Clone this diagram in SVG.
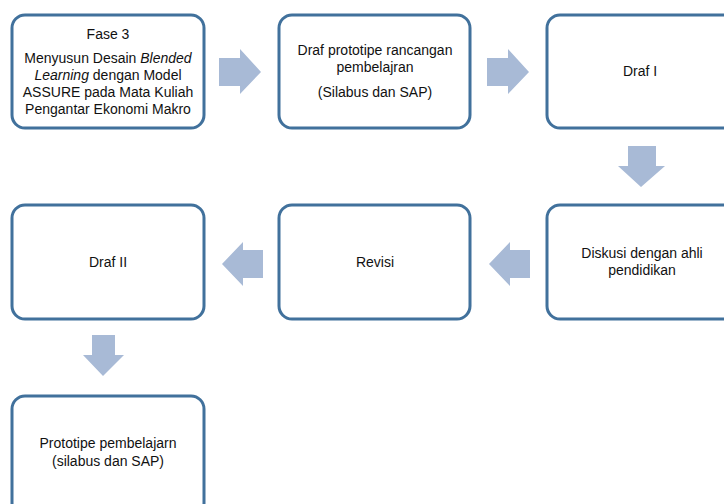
<svg xmlns="http://www.w3.org/2000/svg" width="724" height="504" viewBox="0 0 724 504">
<style>
.box{fill:#fff;stroke:#41719c;stroke-width:3}
.arr{fill:#a8bad6}
text{font-family:"Liberation Sans","Open Sans",sans-serif;font-size:14px;fill:#111;text-anchor:middle}
</style>
<rect width="724" height="504" fill="#fff"/>
<g id="connectors">
<polygon class="arr" points="219,58 240,58 240,49 261,72 240,94 240,86 219,86"/>
<polygon class="arr" points="487,58 508,58 508,49 529,72 508,94 508,86 487,86"/>
<polygon class="arr" points="628,146 656,146 656,166 665,166 641,187 618,166 628,166"/>
<polygon class="arr" points="263,250 243,250 243,242 222,264 243,286 243,278 263,278"/>
<polygon class="arr" points="530,250 510,250 510,242 489,264 510,286 510,278 530,278"/>
<polygon class="arr" points="92,335 115,335 115,355 124,355 103,376 83,355 92,355"/>
</g>
<g id="n1"><rect class="box" x="12" y="15" width="192" height="113" rx="13"/>
<text x="108" y="39">Fase 3</text>
<text x="108" y="63">Menyusun Desain <tspan font-style="italic">Blended</tspan></text>
<text x="108" y="80"><tspan font-style="italic">Learning</tspan>  dengan Model</text>
<text x="108" y="97">ASSURE pada Mata Kuliah</text>
<text x="108" y="114">Pengantar Ekonomi Makro</text></g>
<g id="n2"><rect class="box" x="279" y="15" width="191" height="113" rx="13"/>
<text x="375" y="55">Draf prototipe rancangan</text>
<text x="375" y="72">pembelajran</text>
<text x="375" y="97">(Silabus dan SAP)</text></g>
<g id="n3"><rect class="box" x="547" y="15" width="192" height="113" rx="13"/>
<text x="640" y="76">Draf I</text></g>
<g id="n4"><rect class="box" x="12" y="205" width="192" height="114" rx="13"/>
<text x="108" y="267">Draf II</text></g>
<g id="n5"><rect class="box" x="279" y="205" width="191" height="114" rx="13"/>
<text x="375" y="267">Revisi</text></g>
<g id="n6"><rect class="box" x="547" y="205" width="192" height="114" rx="13"/>
<text x="642" y="258">Diskusi dengan ahli</text>
<text x="642" y="275">pendidikan</text></g>
<g id="n7"><rect class="box" x="12" y="396" width="192" height="120" rx="13"/>
<text x="108" y="448">Prototipe pembelajarn</text>
<text x="108" y="466">(silabus dan SAP)</text></g>
</svg>
